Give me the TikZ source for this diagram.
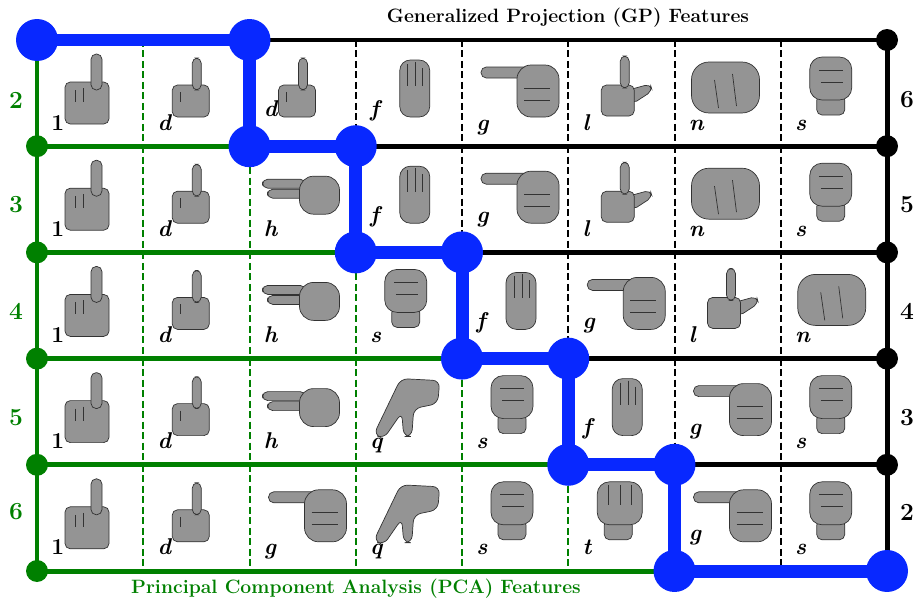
\documentclass[tikz,border=0pt]{standalone}
\usepackage{tikz}
\usetikzlibrary{positioning}

\definecolor{pcagreen}{RGB}{0,128,0}
\definecolor{pathblue}{RGB}{8,40,255}

% Hand silhouettes, drawn from the top left corner of a cell
\tikzset{
  handskin/.style={fill=black!42, draw=black!80, line width=0.4pt, rounded corners=3pt},
  pics/hand 1/.style={code={
    \draw[handskin] (28,42) rectangle (72,84);
    \draw[handskin] (54,14) rectangle (65,50);
    \draw[black!80] (38,50) -- (38,62) (46,48) -- (46,62);
  }},
  pics/hand d/.style={code={
    \draw[handskin] (29,45) rectangle (66,77);
    \draw[handskin] (49,18) rectangle (58,50);
    \draw[black!80] (37,52) -- (37,62);
  }},
  pics/hand f/.style={code={
    \draw[handskin, rounded corners=6pt] (44,20) rectangle (74,77);
    \draw[black!80] (52,24) -- (52,46) (60,22) -- (60,46) (67,28) -- (67,46);
  }},
  pics/hand g/.style={code={
    \draw[handskin] (19,27) rectangle (68,38);
    \draw[handskin, rounded corners=8pt] (55,25) rectangle (97,77);
    \draw[black!80] (62,48) -- (88,48) (62,60) -- (88,60);
  }},
  pics/hand h/.style={code={
    \draw[handskin] (13,33) rectangle (56,42);
    \draw[handskin] (18,43) rectangle (56,52);
    \draw[handskin, rounded corners=8pt] (50,30) rectangle (90,68);
  }},
  pics/hand l/.style={code={
    \draw[handskin] (60,50) -- (82,44) -- (84,51) -- (64,64) -- cycle;
    \draw[handskin] (33,45) rectangle (66,76);
    \draw[handskin] (52,16) rectangle (61,48);
  }},
  pics/hand n/.style={code={
    \draw[handskin, rounded corners=10pt] (17,22) rectangle (85,73);
    \draw[black!80] (40,40) -- (44,68) (58,34) -- (62,66);
  }},
  pics/hand s/.style={code={
    \draw[handskin] (36,55) rectangle (64,75);
    \draw[handskin, rounded corners=7pt] (29,17) rectangle (71,60);
    \draw[black!80] (38,30) -- (62,30) (40,42) -- (62,42);
  }},
  pics/hand t/.style={code={
    \draw[handskin] (36,55) rectangle (64,75);
    \draw[handskin, rounded corners=7pt] (29,17) rectangle (74,60);
    \draw[black!80] (40,20) -- (40,40) (52,20) -- (52,40) (63,20) -- (63,40);
  }},
  pics/hand q/.style={code={
    \draw[handskin, rounded corners=4pt] (45,20) -- (84,22) -- (82,45) -- (58,50)
      -- (56,78) -- (48,78) -- (46,54) -- (28,80) -- (18,76) -- cycle;
  }},
}

\begin{document}
\begin{tikzpicture}[x=0.02cm, y=-0.02cm,
    pcaline/.style={line width=0.1cm, pcagreen},
    gpline/.style={line width=0.1cm, black},
    pcadash/.style={line width=0.04cm, pcagreen, dash pattern=on 0.14cm off 0.07cm},
    gpdash/.style={line width=0.04cm, black, dash pattern=on 0.14cm off 0.07cm},
    bestpath/.style={line width=0.26cm, pathblue, line join=round},
    bigdot/.style={circle, fill=pathblue, minimum size=0.84cm, inner sep=0pt},
    pcadot/.style={circle, fill=pcagreen, minimum size=0.44cm, inner sep=0pt},
    gpdot/.style={circle, fill=black, minimum size=0.44cm, inner sep=0pt},
    celltext/.style={anchor=base west, inner sep=0pt, font=\fontsize{13}{15}\selectfont\bfseries\itshape},
    rowlabel/.style={font=\fontsize{14}{16}\selectfont\bfseries}]
    \useasboundingbox (0,0) rectangle (914,605);

    % Grid points
    \foreach \i in {0,...,8}
      \foreach \j in {0,...,5}
        \coordinate (p\i\j) at ({37+106.25*\i},{40+106.2*\j});

    % Hands and their letters
    \foreach \j/\cells in {0/{d,d,f,g,l,n,s}, 1/{d,h,f,g,l,n,s}, 2/{d,h,s,f,g,l,n}, 3/{d,h,q,s,f,g,s}, 4/{d,g,q,s,t,g,s}} {
      \pic at (p0\j) {hand 1};
      \node[celltext] (c0\j) at ([shift={(14,90)}]p0\j) {\upshape 1};
      \foreach \ltr [count=\col] in \cells {
        \pgfmathtruncatemacro\dc{\col-\j}
        \def\by{90}
        \ifnum\dc=2 \def\by{76}\fi
        \ifnum\dc=3 \ifnum\j<4 \def\by{76}\fi\fi
        \pic at (p\col\j) {hand \ltr};
        \node[celltext] (c\col\j) at ([shift={(14,\by)}]p\col\j) {\ltr};
      }
    }

    % Dashed column borders
    \foreach \j in {0,...,4} {
      \pgfmathtruncatemacro\nj{\j+1}
      \foreach \i in {1,...,7} {
        \pgfmathtruncatemacro\dc{\i-\j}
        \ifnum\dc<2 \draw[pcadash] (p\i\j) -- (p\i\nj); \fi
        \ifnum\dc>2 \draw[gpdash] (p\i\j) -- (p\i\nj); \fi
      }
    }

    % Row borders
    \draw[gpline] (p20) -- (p80);
    \foreach \j in {1,...,4} {
      \pgfmathtruncatemacro\ga{\j+1}
      \pgfmathtruncatemacro\gb{\j+2}
      \draw[pcaline] (p0\j) -- (p\ga\j);
      \draw[gpline] (p\gb\j) -- (p8\j);
    }
    \draw[pcaline] (p05) -- (p65);
    \draw[pcaline] (p00) -- (p05);
    \draw[gpline] (p80) -- (p85);

    % Blue path
    \draw[bestpath] (p00) -- (p20) -- (p21) -- (p31) -- (p32) -- (p42) -- (p43)
      -- (p53) -- (p54) -- (p64) -- (p65) -- (p85);
    \foreach \p in {00,20,21,31,32,42,43,53,54,64,65,85}
      \node[bigdot] (b\p) at (p\p) {};
    \foreach \j in {1,...,5}
      \node[pcadot] (g\j) at (p0\j) {};
    \foreach \j in {0,...,4}
      \node[gpdot] (k\j) at (p8\j) {};

    % Row numbers
    \foreach \j/\y/\l/\r in {0/100/2/6, 1/205/3/5, 2/311/4/4, 3/418/5/3, 4/512/6/2} {
      \node[rowlabel, pcagreen] (ll\j) at (16,\y) {\l};
      \node[rowlabel] (rl\j) at (907,\y) {\r};
    }

    % Titles
    \node[font=\fontsize{11}{13}\selectfont\bfseries] (gptitle) at (568,18) {Generalized Projection (GP) Features};
    \node[font=\fontsize{11}{13}\selectfont\bfseries, pcagreen] (pcatitle) at (356,589) {Principal Component Analysis (PCA) Features};
\end{tikzpicture}
\end{document}
